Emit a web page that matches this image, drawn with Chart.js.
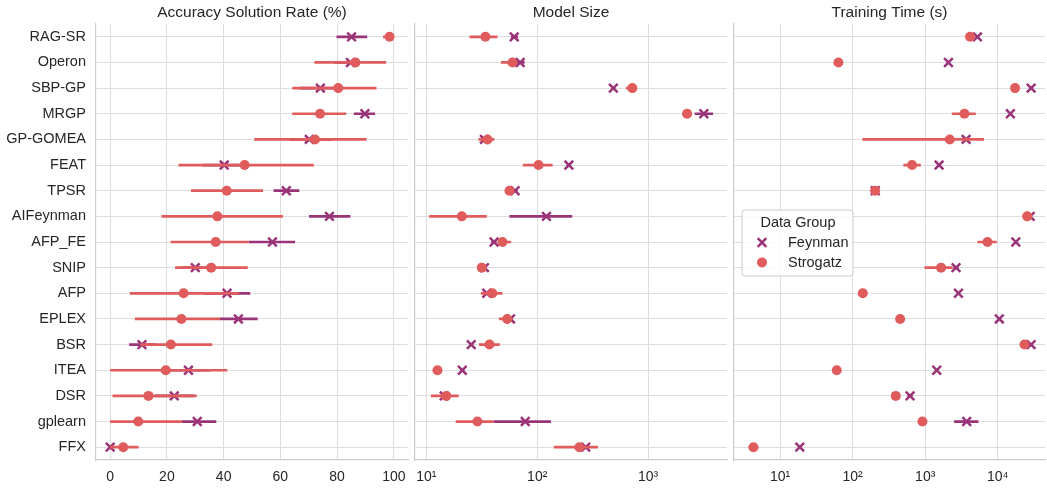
<!DOCTYPE html>
<html>
<head>
<meta charset="utf-8">
<script src="https://cdn.jsdelivr.net/npm/chart.js@4.4.1/dist/chart.umd.min.js"></script>
<style>
  html, body { margin: 0; padding: 0; background: #fff; }
  .wrap { position: relative; width: 1047px; height: 491px; }
  canvas { position: absolute; top: 0; }
</style>
</head>
<body>
<div class="wrap">
  <canvas id="accChart" width="410" height="491" style="left:0px"></canvas>
  <canvas id="sizeChart" width="319" height="491" style="left:410px"></canvas>
  <canvas id="timeChart" width="318" height="491" style="left:729px"></canvas>
</div>
<script>
// ------------------------Data------------------------------------
const methods = ['RAG-SR', 'Operon', 'SBP-GP', 'MRGP', 'GP-GOMEA', 'FEAT', 'TPSR', 'AIFeynman', 'AFP_FE',
  'SNIP', 'AFP', 'EPLEX', 'BSR', 'ITEA', 'DSR', 'gplearn', 'FFX']
const groups = ['Feynman', 'Strogatz']

// Accuracy Solution Rate (%)
const feynAcc = [85.1, 84.7, 74.1, 89.8, 70.2, 40.2, 62.1, 77.3, 57.2, 30.0, 41.2, 45.2, 11.2, 27.6, 22.6, 30.7, 0.0]
const feynAccLo = [79.8, 79.2, 66.8, 85.9, 63.3, 32.6, 57.6, 70.1, 48.8, 25.5, 33.2, 38.5, 6.7, 20.0, 15.9, 25.3, 0.0]
const feynAccHi = [90.6, 87.4, 80.5, 93.4, 78.2, 48.0, 66.7, 84.7, 65.2, 34.5, 49.4, 52.0, 15.9, 35.3, 29.5, 37.4, 0.0]
const strAcc = [98.5, 86.5, 80.4, 74.0, 72.2, 47.4, 41.1, 37.8, 37.2, 35.6, 25.9, 25.1, 21.4, 19.6, 13.5, 9.9, 4.6]
const strAccLo = [96.2, 72.0, 64.2, 64.2, 50.8, 24.1, 28.5, 18.1, 21.3, 22.9, 6.9, 8.7, 10.6, 0.0, 0.8, 0.0, 0.0]
const strAccHi = [100.0, 97.3, 93.9, 83.2, 90.4, 71.8, 53.9, 60.9, 48.8, 48.5, 45.5, 38.8, 36.0, 41.3, 30.5, 25.3, 10.0]

// Model Size
const feynSize = [62, 70.2, 486, 3184, 33.4, 193, 63.2, 121, 40.8, 33.4, 35.1, 57.4, 25.4, 21.1, 14.5, 78, 274]
const feynSizeLo = [58, 65, 470, 2630, 31.5, 185, 60, 56.2, 38.5, 32, 33, 55, 24.5, 20.3, 13.5, 40.3, 255]
const feynSizeHi = [67, 77, 505, 3860, 35.5, 201, 66.5, 207, 43, 35, 37.5, 60, 26.5, 22, 15.8, 133, 295]
const strSize = [34.1, 59.8, 721, 2249, 35.6, 102.8, 56.2, 20.9, 48.6, 31.6, 39.4, 53.6, 37.1, 12.6, 15.1, 28.9, 240]
const strSizeLo = [24.5, 47, 631, 2050, 29.5, 74.1, 52, 10.6, 44.7, 29.5, 31, 45.1, 29.9, 12.1, 11, 18.4, 141]
const strSizeHi = [43.8, 65, 795, 2450, 41.1, 137.7, 60.5, 35.1, 58.2, 34, 48.6, 59.8, 46, 13.8, 19.6, 40.3, 353]

// Training Time (s)
const feynTime = [5240, 2090, 28800, 14900, 3660, 1553, 205, 27900, 17700, 2660, 2870, 10500, 28800, 1442, 618, 3730, 18.7]
const feynTimeLo = [5000, 2050, 28300, 14600, 3300, 1500, 200, 27500, 17200, 2450, 2820, 10300, 28200, 1420, 570, 2500, 18.2]
const feynTimeHi = [5500, 2130, 29300, 15200, 4000, 1600, 210, 28300, 18200, 2900, 2920, 10700, 29400, 1465, 670, 5410, 19.2]
const strTime = [4150, 63.7, 17300, 3470, 2180, 659, 204, 25400, 7200, 1656, 138, 451, 23300, 60.4, 393, 915, 4.3]
const strTimeLo = [3900, 57, 17000, 2320, 136, 500, 185, 24500, 5240, 975, 120, 400, 22000, 59, 345, 900, 3.7]
const strTimeHi = [4450, 71, 17600, 4970, 6470, 870, 225, 26200, 9690, 2390, 150, 500, 24700, 61.5, 445, 930, 5.0]

const accTicks = [0, 20, 40, 60, 80, 100]
const sizeTicks = [10, 100, 1000]
const timeTicks = [10, 100, 1000, 10000]

// ------------------------Styles----------------------------------
const feynColor = '#9a3479'
const strColor = '#e05c5c'
const gridColor = '#dddddd'
const textColor = '#262626'
const fontFamily = '"Liberation Sans", Arial, sans-serif'
const sup = { 1: '\u00b9', 2: '\u00b2', 3: '\u00b3', 4: '\u2074' }

// ------------------------Helpers---------------------------------
const points = (vals) => vals.map((v, i) => ({ x: v, y: methods[i] }))

// error bars as one line with gaps between rows
const bars = (lo, hi) => {
  const out = []
  methods.forEach((m, i) => {
    out.push({ x: lo[i], y: m }, { x: hi[i], y: m }, { x: null, y: m })
  })
  return out
}

const titlePlugin = (text) => ({
  id: 'panelTitle',
  afterDraw(chart) {
    const a = chart.chartArea
    const ctx = chart.ctx
    ctx.save()
    ctx.fillStyle = textColor
    ctx.font = `15.5px ${fontFamily}`
    ctx.textAlign = 'center'
    ctx.textBaseline = 'middle'
    ctx.fillText(text, (a.left + a.right) / 2, 13)
    ctx.restore()
  }
})

const legendPlugin = {
  id: 'groupLegend',
  afterDraw(chart) {
    const ctx = chart.ctx
    const x0 = chart.chartArea.left + 8
    const y0 = 210
    ctx.save()
    ctx.beginPath()
    ctx.roundRect(x0, y0, 111, 66, 3)
    ctx.fillStyle = 'rgba(255,255,255,0.85)'
    ctx.fill()
    ctx.strokeStyle = '#cccccc'
    ctx.lineWidth = 1
    ctx.stroke()

    ctx.fillStyle = textColor
    ctx.font = `14.5px ${fontFamily}`
    ctx.textBaseline = 'middle'
    ctx.textAlign = 'center'
    ctx.fillText('Data Group', x0 + 56, y0 + 12.5)
    ctx.textAlign = 'left'
    ctx.fillText(groups[0], x0 + 46, y0 + 32.5)
    ctx.fillText(groups[1], x0 + 46, y0 + 52.5)

    // Feynman marker
    const mx = x0 + 20
    ctx.strokeStyle = feynColor
    ctx.lineWidth = 2.5
    ctx.beginPath()
    ctx.moveTo(mx - 4.3, y0 + 28.2); ctx.lineTo(mx + 4.3, y0 + 36.8)
    ctx.moveTo(mx - 4.3, y0 + 36.8); ctx.lineTo(mx + 4.3, y0 + 28.2)
    ctx.stroke()
    // Strogatz marker
    ctx.fillStyle = strColor
    ctx.beginPath()
    ctx.arc(mx, y0 + 52.5, 5, 0, Math.PI * 2)
    ctx.fill()
    ctx.restore()
  }
}

// ------------------------Build a panel---------------------------
const makePanel = (canvasId, cfg) => {
  const xScale = {
    type: cfg.log ? 'logarithmic' : 'linear',
    min: cfg.min,
    max: cfg.max,
    afterBuildTicks: (scale) => {
      scale.ticks = cfg.ticks.map((v) => ({ value: v, major: true }))
    },
    afterFit: (scale) => {
      scale.height = 26
      scale.paddingLeft = 0
      scale.paddingRight = 0
    },
    ticks: {
      color: textColor,
      font: { family: fontFamily, size: 14 },
      padding: 9,
      maxRotation: 0,
      autoSkip: false,
      callback: (v) => cfg.log ? '10' + sup[Math.round(Math.log10(v))] : String(v)
    },
    grid: { color: gridColor, lineWidth: 1, drawTicks: false },
    border: { display: true, color: '#cccccc', width: 1.2 }
  }

  const yScale = {
    type: 'category',
    labels: methods,
    offset: true,
    afterFit: (scale) => {
      scale.width = cfg.yWidth
      scale.paddingTop = 0
      scale.paddingBottom = 0
    },
    ticks: {
      display: cfg.showLabels,
      color: textColor,
      font: { family: fontFamily, size: 14.5 },
      padding: 10
    },
    grid: { color: gridColor, lineWidth: 1, drawTicks: false },
    border: { display: true, color: '#cccccc', width: 1.2 }
  }

  const plugins = [titlePlugin(cfg.title)]
  if (cfg.legend) plugins.push(legendPlugin)

  return new Chart(document.getElementById(canvasId), {
    type: 'scatter',
    data: {
      datasets: [
        {
          label: 'Strogatz',
          data: points(cfg.str),
          pointStyle: 'circle',
          pointRadius: 5,
          backgroundColor: strColor,
          borderWidth: 0,
          order: 0
        },
        {
          label: 'Strogatz bars',
          data: bars(cfg.strLo, cfg.strHi),
          showLine: true,
          spanGaps: false,
          borderColor: strColor,
          borderWidth: 2.7,
          pointRadius: 0,
          order: 1
        },
        {
          label: 'Feynman',
          data: points(cfg.feyn),
          pointStyle: 'crossRot',
          pointRadius: 6.1,
          borderColor: feynColor,
          borderWidth: 2.5,
          order: 2
        },
        {
          label: 'Feynman bars',
          data: bars(cfg.feynLo, cfg.feynHi),
          showLine: true,
          spanGaps: false,
          borderColor: feynColor,
          borderWidth: 2.7,
          pointRadius: 0,
          order: 3
        }
      ]
    },
    options: {
      responsive: false,
      devicePixelRatio: 1,
      animation: false,
      events: [],
      layout: { autoPadding: false, padding: { top: 24, bottom: 5, left: 0, right: 2 } },
      plugins: {
        legend: { display: false },
        tooltip: { enabled: false }
      },
      scales: { x: xScale, y: yScale }
    },
    plugins: plugins
  })
}

// ------------------------Panels----------------------------------
makePanel('accChart', {
  title: 'Accuracy Solution Rate (%)', log: false, min: -5, max: 105, ticks: accTicks,
  yWidth: 96, showLabels: true,
  feyn: feynAcc, feynLo: feynAccLo, feynHi: feynAccHi,
  str: strAcc, strLo: strAccLo, strHi: strAccHi
})

makePanel('sizeChart', {
  title: 'Model Size', log: true, min: 7.9, max: 5150, ticks: sizeTicks,
  yWidth: 5, showLabels: false,
  feyn: feynSize, feynLo: feynSizeLo, feynHi: feynSizeHi,
  str: strSize, strLo: strSizeLo, strHi: strSizeHi
})

makePanel('timeChart', {
  title: 'Training Time (s)', log: true, min: 2.32, max: 44700, ticks: timeTicks,
  yWidth: 5, showLabels: false, legend: true,
  feyn: feynTime, feynLo: feynTimeLo, feynHi: feynTimeHi,
  str: strTime, strLo: strTimeLo, strHi: strTimeHi
})
</script>
</body>
</html>
